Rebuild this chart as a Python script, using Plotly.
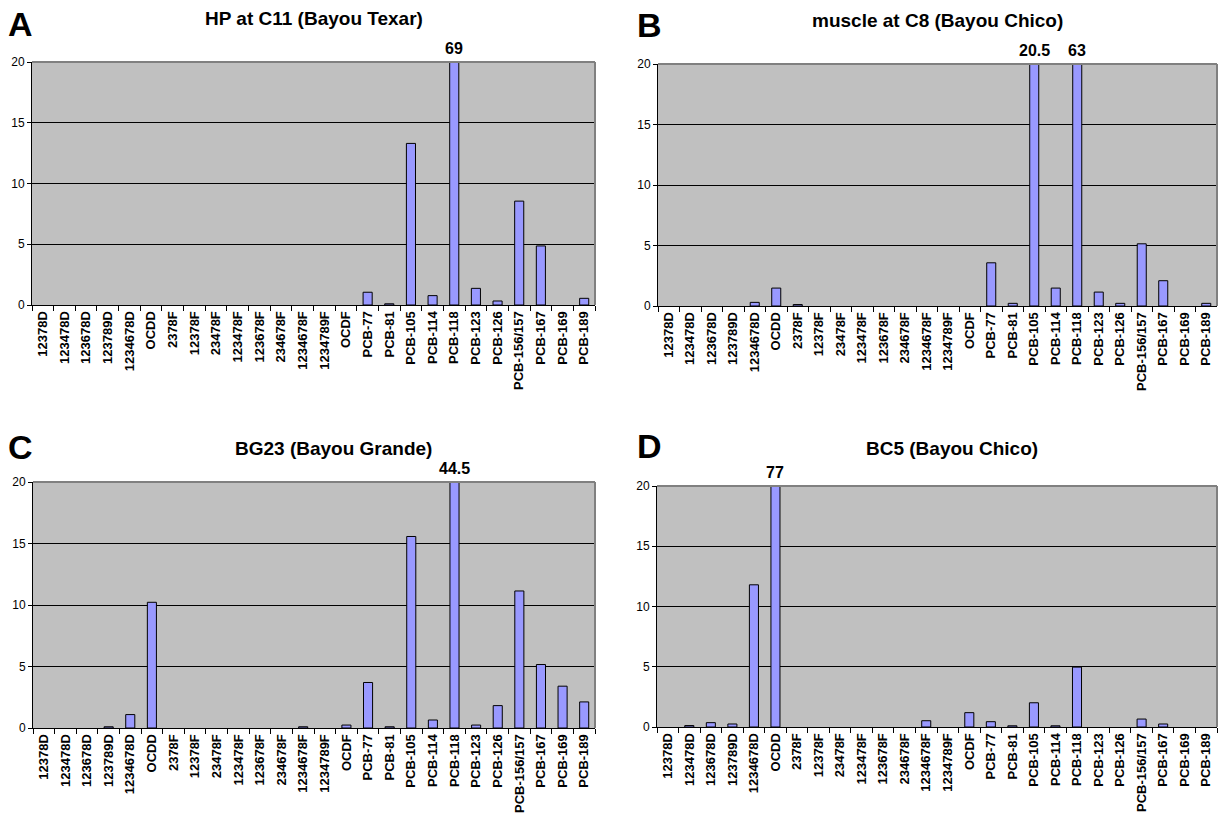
import plotly.graph_objects as go

categories = ["12378D", "123478D", "123678D", "123789D", "1234678D", "OCDD",
              "2378F", "12378F", "23478F", "123478F", "123678F", "234678F",
              "1234678F", "1234789F", "OCDF", "PCB-77", "PCB-81", "PCB-105",
              "PCB-114", "PCB-118", "PCB-123", "PCB-126", "PCB-156/157",
              "PCB-167", "PCB-169", "PCB-189"]

values_a = [0, 0, 0, 0, 0, 0, 0, 0, 0, 0, 0, 0, 0, 0, 0,
            1.05, 0.1, 13.3, 0.77, 69, 1.37, 0.33, 8.55, 4.86, 0, 0.55]
values_b = [0, 0, 0, 0, 0.3, 1.48, 0.12, 0, 0, 0, 0, 0, 0, 0, 0,
            3.57, 0.22, 20.5, 1.48, 63, 1.15, 0.22, 5.14, 2.09, 0, 0.22]
values_c = [0, 0, 0, 0.1, 1.09, 10.22, 0, 0, 0, 0, 0, 0, 0.1, 0, 0.24,
            3.7, 0.1, 15.57, 0.65, 44.5, 0.24, 1.82, 11.14, 5.16, 3.4, 2.12]
values_d = [0, 0.12, 0.36, 0.25, 11.8, 77, 0, 0, 0, 0, 0, 0, 0.52, 0, 1.19,
            0.44, 0.1, 2.01, 0.1, 4.97, 0, 0, 0.66, 0.25, 0, 0]

titles = ["HP at C11 (Bayou Texar)", "muscle at C8 (Bayou Chico)",
          "BG23 (Bayou Grande)", "BC5 (Bayou Chico)"]
letters = ["A", "B", "C", "D"]
y_max = 20

W, H = 1218, 818
panels = [
    # (values, xdomain px, ydomain px (top,bottom), title center x, title y, letter x, letter y)
    (values_a, (32, 595), (62, 305), 314, 18, 6, 24),
    (values_b, (658, 1217), (64, 306), 937, 20, 635, 25),
    (values_c, (33, 595), (482, 728), 333, 448, 6, 447),
    (values_d, (657, 1217), (486, 727), 952, 448, 635, 446),
]

fig = go.Figure()
font = "Liberation Sans, Arial, sans-serif"
shapes = []
annotations = []
for i, (vals, xd, yd, tx, ty, lx, ly) in enumerate(panels):
    n = "" if i == 0 else str(i + 1)
    fig.add_trace(go.Bar(
        x=categories, y=vals, width=0.42,
        marker=dict(color="#9999FF",
                    line=dict(color="#000000", width=[1 if v > 0 else 0 for v in vals])),
        xaxis="x" + n, yaxis="y" + n, showlegend=False, hoverinfo="x+y"))
    xa = dict(domain=[xd[0] / W, xd[1] / W], anchor="y" + n,
              type="category", categoryorder="array", categoryarray=categories,
              range=[-0.5, len(categories) - 0.5], autorange=False,
              tickangle=-90, tickfont=dict(family=font, size=13, color="black", weight="bold"),
              ticks="outside", tickson="boundaries", ticklen=5, tickcolor="black",
              showline=True, linecolor="black", linewidth=1, showgrid=False,
              zeroline=False, automargin=False, fixedrange=True)
    ya = dict(domain=[1 - yd[1] / H, 1 - yd[0] / H], anchor="x" + n,
              range=[0, y_max], autorange=False, dtick=5, tick0=0,
              tickfont=dict(family=font, size=12, color="black"),
              ticks="outside", ticklen=4, tickcolor="black",
              showline=True, linecolor="black", linewidth=1,
              showgrid=True, gridcolor="black", gridwidth=1,
              zeroline=False, automargin=False, fixedrange=True)
    fig.update_layout({("xaxis" + n): xa, ("yaxis" + n): ya})
    # gray top/right border
    shapes.append(dict(type="line", xref="x" + n + " domain", yref="y" + n + " domain",
                       x0=0, x1=1, y0=1, y1=1, line=dict(color="#808080", width=2), layer="above"))
    shapes.append(dict(type="line", xref="x" + n + " domain", yref="y" + n + " domain",
                       x0=1, x1=1, y0=0, y1=1, line=dict(color="#808080", width=2), layer="above"))
    # over-range labels
    for c, v in zip(categories, vals):
        if v > y_max:
            annotations.append(dict(x=c, y=1, xref="x" + n, yref="y" + n + " domain",
                                    text=f"{v:g}", showarrow=False, yanchor="bottom", yshift=3,
                                    font=dict(family=font, size=16, color="black", weight="bold")))
    annotations.append(dict(x=tx / W, y=1 - ty / H, xref="paper", yref="paper",
                            text=titles[i], showarrow=False, xanchor="center", yanchor="middle",
                            font=dict(family=font, size=19, color="black", weight="bold")))
    annotations.append(dict(x=lx / W, y=1 - ly / H, xref="paper", yref="paper",
                            text=letters[i], showarrow=False, xanchor="left", yanchor="middle",
                            font=dict(family=font, size=34, color="black", weight="bold")))

fig.update_layout(width=W, height=H, margin=dict(l=0, r=0, t=0, b=0),
                  template="none", paper_bgcolor="white", plot_bgcolor="#C0C0C0",
                  bargap=0.5, shapes=shapes, annotations=annotations, showlegend=False,
                  hovermode=False)
fig.write_html("out.html", config={"displayModeBar": False, "staticPlot": True},
               post_script="document.body.style.margin='0';document.body.style.overflow='hidden';")
